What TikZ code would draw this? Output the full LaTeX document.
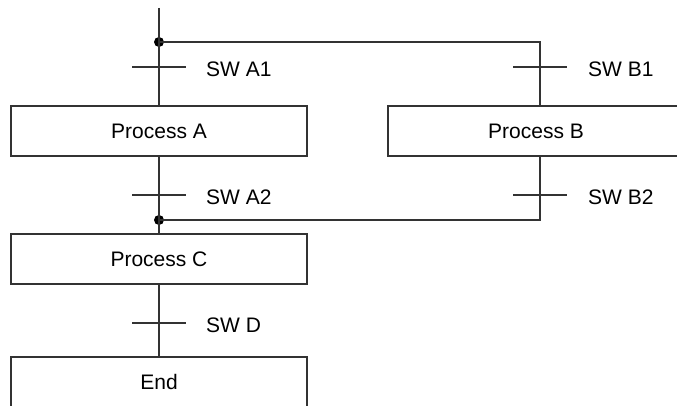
\documentclass[tikz,border=0pt]{standalone}
\usepackage{fontspec}
\setmainfont{Liberation Sans}
\begin{document}
\begin{tikzpicture}[x=1pt,y=1pt,
  line/.style={draw=black!80,line width=1.2pt},
  procbox/.style={line,rectangle,minimum width=296pt,minimum height=50pt,inner sep=0pt,font=\fontsize{21}{24}\selectfont},
  swlabel/.style={anchor=west,inner sep=0pt,font=\fontsize{21}{24}\selectfont},
  junc/.style={circle,fill=black,inner sep=0pt,minimum size=10pt}]
\useasboundingbox (0,0) rectangle (677,406);
\clip (0,0) rectangle (677,406);
% boxes
\node[procbox] (pa) at (159,275) {Process A};
\node[procbox] (pb) at (536,275) {Process B};
\node[procbox] (pc) at (159,147) {Process C};
\node[procbox] (pe) at (159,24) {End};
% junctions
\coordinate (top) at (159,398);
\node[junc] (j1) at (159,364) {};
\coordinate (r1) at (540,364);
\node[junc] (j2) at (159,186) {};
\coordinate (r2) at (540,186);
% connectors
\draw[line] (top) -- (j1.center) -- (pa.north);
\draw[line] (j1.center) -- (r1) -- (r1 |- pb.north);
\draw[line] (pa.south) -- (j2.center) -- (pc.north);
\draw[line] (r2 |- pb.south) -- (r2) -- (j2.center);
\draw[line] (pc.south) -- (pe.north);
% switch ticks
\coordinate (ta1) at (159,339);
\coordinate (ta2) at (159,211);
\coordinate (td) at (159,83);
\coordinate (tb1) at (540,339);
\coordinate (tb2) at (540,211);
\foreach \t in {ta1,ta2,td,tb1,tb2}{
  \draw[line] ([xshift=-27pt]\t) -- ([xshift=27pt]\t);
}
% labels
\node[swlabel] (la1) at ([xshift=47pt,yshift=-2pt]ta1) {SW A1};
\node[swlabel] (la2) at ([xshift=47pt,yshift=-2pt]ta2) {SW A2};
\node[swlabel] (ld) at ([xshift=47pt,yshift=-2pt]td) {SW D};
\node[swlabel] (lb1) at ([xshift=48pt,yshift=-2pt]tb1) {SW B1};
\node[swlabel] (lb2) at ([xshift=48pt,yshift=-2pt]tb2) {SW B2};
\end{tikzpicture}
\end{document}
